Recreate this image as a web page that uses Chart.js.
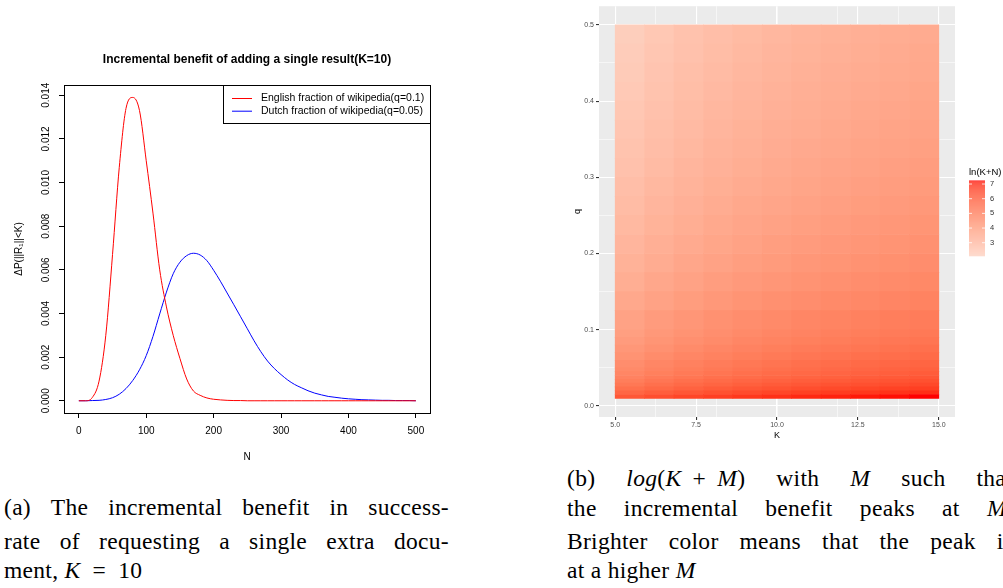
<!DOCTYPE html>
<html>
<head>
<meta charset="utf-8">
<script src="https://cdn.jsdelivr.net/npm/chart.js@4.4.1/dist/chart.umd.min.js"></script>
<style>
  html, body { margin: 0; padding: 0; background: #fff; }
  body { width: 1003px; height: 588px; position: relative; overflow: hidden; }
  canvas { position: absolute; }
  #benefitChart { left: 0; top: 0; }
  #peakChart { left: 550px; top: 0; }
  .cap { position: absolute; font-family: "Liberation Serif", "Times New Roman", serif; font-size: 23.5px; line-height: 26px; letter-spacing: 0.3px; color: #000; white-space: nowrap; }
  .just { display: flex; justify-content: space-between; }
</style>
</head>
<body>
<canvas id="benefitChart" width="450" height="470"></canvas>
<canvas id="peakChart" width="453" height="460"></canvas>

<div class="cap just" style="left:4px;top:494px;width:445px"><span>(a)</span><span>The</span><span>incremental</span><span>benefit</span><span>in</span><span>success-</span></div>
<div class="cap just" style="left:4px;top:528px;width:445px"><span>rate</span><span>of</span><span>requesting</span><span>a</span><span>single</span><span>extra</span><span>docu-</span></div>
<div class="cap" style="left:4px;top:557px">ment, <i>K</i>&ensp;=&ensp;10</div>

<div class="cap just" style="left:567px;top:465px;width:446px"><span>(b)</span><span><i>log</i>(<i>K</i>&thinsp; + &thinsp;<i>M</i>)</span><span>with</span><span><i>M</i></span><span>such</span><span>that</span></div>
<div class="cap just" style="left:567px;top:495px;width:446px"><span>the</span><span>incremental</span><span>benefit</span><span>peaks</span><span>at</span><span><i>M</i>.</span></div>
<div class="cap just" style="left:567px;top:528px;width:446px"><span>Brighter</span><span>color</span><span>means</span><span>that</span><span>the</span><span>peak</span><span>is</span></div>
<div class="cap" style="left:567px;top:557px">at a higher <i>M</i></div>

<script>
// ---- panel (a): incremental benefit of one extra result, K = 10 ----
const nValues = [0, 10, 20, 30, 40, 50, 60, 70, 80, 90, 100, 110, 120, 130, 140, 150, 160, 170, 180, 190, 200,
  210, 220, 230, 240, 250, 260, 270, 280, 290, 300, 310, 320, 330, 340, 350, 360, 370, 380, 390, 400,
  410, 420, 430, 440, 450, 460, 470, 480, 490, 500];
// English fraction of wikipedia (q=0.1)
const englishBenefit = [0, 0, 0.00015, 0.0009, 0.003, 0.0067, 0.0107, 0.0134, 0.0139, 0.0133, 0.011,
  0.0086, 0.006, 0.0043, 0.003, 0.00194, 0.001, 0.00045, 0.00025, 0.00013, 0.00007,
  0.00004, 0.00002, 0.00001, 0.00001, 0, 0, 0, 0, 0, 0, 0, 0, 0, 0, 0, 0, 0, 0, 0, 0,
  0, 0, 0, 0, 0, 0, 0, 0, 0, 0];
// Dutch fraction of wikipedia (q=0.05)
const dutchBenefit = [0, 0, 0.00001, 0.00002, 0.00006, 0.00014, 0.0003, 0.00056, 0.00093, 0.00142, 0.00207,
  0.00295, 0.00398, 0.00498, 0.00582, 0.00635, 0.00665, 0.00676, 0.00668, 0.00642, 0.00598,
  0.00548, 0.00494, 0.0044, 0.00385, 0.0033, 0.00275, 0.00225, 0.00182, 0.00148, 0.0012,
  0.00095, 0.00075, 0.0006, 0.00046, 0.00035, 0.00027, 0.0002, 0.00016, 0.00012, 0.00009,
  0.00007, 0.00005, 0.00004, 0.00003, 0.00002, 0.00002, 0.00001, 0.00001, 0.00001, 0];
const nTicks = [0, 100, 200, 300, 400, 500];
const benefitTicks = [0, 0.002, 0.004, 0.006, 0.008, 0.010, 0.012, 0.014];

// ---- panel (b): ln(K+N) at the peak, per K (columns) and q (rows, bottom up) ----
const kValues = [5, 6, 7, 8, 9, 10, 11, 12, 13, 14, 15];
const qEdges = [0.01, 0.015, 0.02, 0.025, 0.03, 0.035, 0.04, 0.045, 0.05, 0.06, 0.07, 0.08, 0.09, 0.10,
  0.125, 0.15, 0.175, 0.20, 0.225, 0.25, 0.275, 0.30, 0.325, 0.35, 0.375, 0.40, 0.425, 0.45, 0.475, 0.50];
const lnKN = [
  [5.99, 6.21, 6.40, 6.55, 6.68, 6.80, 6.91, 7.00, 7.09, 7.17, 7.24],
  [5.59, 5.81, 5.99, 6.15, 6.28, 6.40, 6.50, 6.60, 6.68, 6.76, 6.84],
  [5.30, 5.52, 5.70, 5.86, 5.99, 6.11, 6.21, 6.31, 6.40, 6.48, 6.55],
  [5.08, 5.30, 5.48, 5.63, 5.77, 5.89, 5.99, 6.09, 6.17, 6.25, 6.33],
  [4.89, 5.12, 5.30, 5.45, 5.59, 5.70, 5.81, 5.90, 5.99, 6.07, 6.15],
  [4.74, 4.96, 5.14, 5.30, 5.43, 5.55, 5.66, 5.75, 5.84, 5.92, 5.99],
  [4.61, 4.83, 5.01, 5.16, 5.30, 5.42, 5.52, 5.62, 5.70, 5.78, 5.86],
  [4.49, 4.71, 4.89, 5.05, 5.18, 5.30, 5.40, 5.50, 5.59, 5.67, 5.74],
  [4.38, 4.61, 4.79, 4.94, 5.08, 5.19, 5.30, 5.39, 5.48, 5.56, 5.63],
  [4.20, 4.42, 4.61, 4.76, 4.89, 5.01, 5.12, 5.21, 5.30, 5.38, 5.45],
  [4.05, 4.27, 4.45, 4.61, 4.74, 4.86, 4.96, 5.06, 5.14, 5.22, 5.30],
  [3.91, 4.14, 4.32, 4.47, 4.61, 4.72, 4.83, 4.92, 5.01, 5.09, 5.16],
  [3.79, 4.02, 4.20, 4.35, 4.49, 4.61, 4.71, 4.81, 4.89, 4.97, 5.05],
  [3.69, 3.91, 4.09, 4.25, 4.38, 4.50, 4.61, 4.70, 4.79, 4.87, 4.94],
  [3.47, 3.69, 3.87, 4.03, 4.16, 4.28, 4.38, 4.48, 4.56, 4.64, 4.72],
  [3.28, 3.51, 3.69, 3.84, 3.98, 4.09, 4.20, 4.30, 4.38, 4.46, 4.54],
  [3.13, 3.35, 3.53, 3.69, 3.82, 3.94, 4.05, 4.14, 4.23, 4.31, 4.38],
  [3.00, 3.22, 3.40, 3.56, 3.69, 3.81, 3.91, 4.01, 4.09, 4.17, 4.25],
  [2.88, 3.10, 3.28, 3.44, 3.57, 3.69, 3.79, 3.89, 3.98, 4.06, 4.13],
  [2.77, 3.00, 3.18, 3.33, 3.47, 3.58, 3.69, 3.78, 3.87, 3.95, 4.03],
  [2.68, 2.90, 3.08, 3.24, 3.37, 3.49, 3.59, 3.69, 3.78, 3.86, 3.93],
  [2.59, 2.81, 3.00, 3.15, 3.28, 3.40, 3.51, 3.60, 3.69, 3.77, 3.84],
  [2.51, 2.73, 2.92, 3.07, 3.20, 3.32, 3.43, 3.52, 3.61, 3.69, 3.76],
  [2.44, 2.66, 2.84, 3.00, 3.13, 3.25, 3.35, 3.45, 3.53, 3.61, 3.69],
  [2.37, 2.59, 2.77, 2.93, 3.06, 3.18, 3.28, 3.38, 3.47, 3.55, 3.62],
  [2.30, 2.53, 2.71, 2.86, 3.00, 3.11, 3.22, 3.31, 3.40, 3.48, 3.56],
  [2.24, 2.47, 2.65, 2.80, 2.94, 3.05, 3.16, 3.25, 3.34, 3.42, 3.49],
  [2.18, 2.41, 2.59, 2.74, 2.88, 3.00, 3.10, 3.20, 3.28, 3.36, 3.44],
  [2.13, 2.35, 2.54, 2.69, 2.82, 2.94, 3.05, 3.14, 3.23, 3.31, 3.38]
];
const kTicks = [5, 7.5, 10, 12.5, 15];
const kMinorTicks = [6.25, 8.75, 11.25, 13.75];
const qTicks = [0, 0.1, 0.2, 0.3, 0.4, 0.5];
const qMinorTicks = [0.05, 0.15, 0.25, 0.35, 0.45];
const legendTicks = [3, 4, 5, 6, 7];
const fillRange = [2.08, 7.24];

Chart.defaults.font.family = '"Liberation Sans", Arial, sans-serif';
Chart.defaults.animation = false;

// gradient low -> high, interpolated in Lab like ggplot does
const lowFill = [253, 207, 190];
const highFill = [255, 0, 0];

function toLab(rgb) {
  const lin = rgb.map(c => { c /= 255; return c <= 0.04045 ? c / 12.92 : Math.pow((c + 0.055) / 1.055, 2.4); });
  const X = (0.4124 * lin[0] + 0.3576 * lin[1] + 0.1805 * lin[2]) / 0.95047;
  const Y = (0.2126 * lin[0] + 0.7152 * lin[1] + 0.0722 * lin[2]);
  const Z = (0.0193 * lin[0] + 0.1192 * lin[1] + 0.9505 * lin[2]) / 1.08883;
  const f = t => t > 0.008856 ? Math.cbrt(t) : 7.787 * t + 16 / 116;
  const fx = f(X), fy = f(Y), fz = f(Z);
  return [116 * fy - 16, 500 * (fx - fy), 200 * (fy - fz)];
}
function fromLab(lab) {
  const fy = (lab[0] + 16) / 116, fx = lab[1] / 500 + fy, fz = fy - lab[2] / 200;
  const inv = t => t * t * t > 0.008856 ? t * t * t : (t - 16 / 116) / 7.787;
  const X = inv(fx) * 0.95047, Y = inv(fy), Z = inv(fz) * 1.08883;
  const lin = [3.2406 * X - 1.5372 * Y - 0.4986 * Z, -0.9689 * X + 1.8758 * Y + 0.0415 * Z, 0.0557 * X - 0.2040 * Y + 1.0570 * Z];
  return lin.map(c => {
    const v = c <= 0.0031308 ? 12.92 * c : 1.055 * Math.pow(c, 1 / 2.4) - 0.055;
    return Math.round(Math.max(0, Math.min(1, v)) * 255);
  });
}
const lowLab = toLab(lowFill), highLab = toLab(highFill);
function fillColor(v) {
  const t = Math.max(0, Math.min(1, (v - fillRange[0]) / (fillRange[1] - fillRange[0])));
  const c = fromLab(lowLab.map((l, i) => l + (highLab[i] - l) * t));
  return 'rgb(' + c.join(',') + ')';
}

// ---------- chart (a) ----------
const rBase = {
  id: 'rBase',
  afterDraw(chart) {
    const { ctx, chartArea: a } = chart;
    ctx.save();
    ctx.strokeStyle = '#000';
    ctx.lineWidth = 1;
    ctx.strokeRect(a.left + 0.5, a.top + 0.5, a.right - a.left, a.bottom - a.top);

    ctx.fillStyle = '#000';
    ctx.font = 'bold 12px "Liberation Sans", Arial, sans-serif';
    ctx.textAlign = 'center';
    ctx.textBaseline = 'middle';
    ctx.fillText('Incremental benefit of adding a single result(K=10)', (a.left + a.right) / 2, 60);

    // y tick labels, rotated like base R
    const ys = chart.scales.y;
    ctx.font = '10px "Liberation Sans", Arial, sans-serif';
    benefitTicks.forEach(v => {
      ctx.save();
      ctx.translate(46.5, ys.getPixelForValue(v));
      ctx.rotate(-Math.PI / 2);
      ctx.fillText(v.toFixed(3), 0, 0);
      ctx.restore();
    });

    // legend box top-right
    const lx = 223, ly = a.top, lw = a.right - 223, lh = 38;
    ctx.fillStyle = '#fff';
    ctx.fillRect(lx, ly, lw, lh);
    ctx.strokeRect(lx + 0.5, ly + 0.5, lw, lh);
    ctx.font = '10.5px "Liberation Sans", Arial, sans-serif';
    ctx.textAlign = 'left';
    chart.data.datasets.forEach((ds, i) => {
      const yy = ly + 13.5 + i * 12.7;
      ctx.strokeStyle = ds.borderColor;
      ctx.beginPath();
      ctx.moveTo(232, yy);
      ctx.lineTo(252, yy);
      ctx.stroke();
      ctx.fillStyle = '#000';
      ctx.fillText(ds.label, 261, yy);
    });
    ctx.restore();
  }
};

new Chart(document.getElementById('benefitChart'), {
  type: 'line',
  data: {
    datasets: [
      {
        label: 'English fraction of wikipedia(q=0.1)',
        data: nValues.map((n, i) => ({ x: n, y: englishBenefit[i] })),
        borderColor: '#ff0000',
        borderWidth: 1,
        pointRadius: 0,
        cubicInterpolationMode: 'monotone'
      },
      {
        label: 'Dutch fraction of wikipedia(q=0.05)',
        data: nValues.map((n, i) => ({ x: n, y: dutchBenefit[i] })),
        borderColor: '#0000ff',
        borderWidth: 1,
        pointRadius: 0,
        cubicInterpolationMode: 'monotone'
      }
    ]
  },
  options: {
    responsive: false,
    devicePixelRatio: 1,
    layout: { padding: { top: 85, right: 20, left: 0, bottom: 0 } },
    plugins: { legend: { display: false }, tooltip: { enabled: false } },
    scales: {
      x: {
        type: 'linear',
        min: -22,
        max: 521,
        afterBuildTicks: s => { s.ticks = nTicks.map(v => ({ value: v })); },
        afterFit: s => { s.height = 57; },
        grid: { drawOnChartArea: false, drawTicks: true, tickLength: 5, tickColor: '#000' },
        border: { display: true, color: '#000' },
        ticks: { color: '#000', font: { size: 10 }, padding: 7, maxRotation: 0, autoSkip: false, callback: v => String(v) },
        title: { display: true, text: 'N', color: '#000', font: { size: 10 }, padding: { top: 0, bottom: 7 } }
      },
      y: {
        min: -0.00056,
        max: 0.01447,
        afterBuildTicks: s => { s.ticks = benefitTicks.map(v => ({ value: v })); },
        afterFit: s => { s.width = 64; },
        grid: { drawOnChartArea: false, drawTicks: true, tickLength: 5, tickColor: '#000' },
        border: { display: true, color: '#000' },
        ticks: { color: 'rgba(0,0,0,0)', font: { size: 10 }, autoSkip: false },
        title: { display: true, text: 'ΔP(||R₁||<K)', color: '#000', font: { size: 10 }, padding: { top: 13, bottom: 0 } }
      }
    }
  },
  plugins: [rBase]
});

// ---------- chart (b) ----------
const kSpan = kValues[kValues.length - 1] - kValues[0];
const tileW = kSpan / kValues.length;
const heatRows = qEdges.slice(0, -1).map((q0, r) => ({
  label: 'q ' + q0,
  data: kValues.map((k, i) => ({ x: kValues[0] + (i + 0.5) * tileW, y: [q0, qEdges[r + 1]] })),
  backgroundColor: lnKN[r].map(fillColor),
  borderWidth: 0,
  grouped: false,
  barPercentage: 1,
  categoryPercentage: 1
}));

const ggPanel = {
  id: 'ggPanel',
  beforeDraw(chart) {
    const { ctx, chartArea: a } = chart;
    ctx.save();
    ctx.fillStyle = '#ebebeb';
    ctx.fillRect(a.left, a.top, a.right - a.left, a.bottom - a.top);
    ctx.restore();
  },
  afterDraw(chart) {
    const { ctx } = chart;
    const barX = 419, barW = 16, barTop = 180.5, pxPerUnit = 14.675;
    const yOf = v => barTop + (fillRange[1] - v) * pxPerUnit;
    ctx.save();
    ctx.fillStyle = '#000';
    ctx.font = '9.5px "Liberation Sans", Arial, sans-serif';
    ctx.textAlign = 'left';
    ctx.textBaseline = 'middle';
    ctx.fillText('ln(K+N)', barX, 172);
    const yBottom = yOf(fillRange[0]);
    for (let y = barTop; y < yBottom; y += 1) {
      const v = fillRange[1] - (y + 0.5 - barTop) / pxPerUnit;
      ctx.fillStyle = fillColor(v);
      ctx.fillRect(barX, y, barW, Math.min(1, yBottom - y));
    }
    ctx.strokeStyle = '#fff';
    ctx.lineWidth = 0.8;
    ctx.fillStyle = '#333';
    ctx.font = '7.5px "Liberation Sans", Arial, sans-serif';
    legendTicks.forEach(v => {
      const y = yOf(v);
      ctx.beginPath();
      ctx.moveTo(barX, y); ctx.lineTo(barX + 3, y);
      ctx.moveTo(barX + barW - 3, y); ctx.lineTo(barX + barW, y);
      ctx.stroke();
      ctx.fillText(String(v), barX + barW + 5, y);
    });
    ctx.restore();
  }
};

const tickFont = { size: 7 };
new Chart(document.getElementById('peakChart'), {
  type: 'bar',
  data: { datasets: heatRows },
  options: {
    responsive: false,
    devicePixelRatio: 1,
    layout: { padding: { top: 6, right: 48, left: 0, bottom: 0 } },
    plugins: { legend: { display: false }, tooltip: { enabled: false } },
    scales: {
      x: {
        type: 'linear',
        offset: false,
        min: 4.5,
        max: 15.5,
        afterBuildTicks: s => { s.ticks = kTicks.map(v => ({ value: v })); },
        afterFit: s => { s.height = 43; },
        grid: { offset: false, color: '#fff', lineWidth: 1.1, drawTicks: true, tickLength: 3, tickColor: '#333' },
        border: { display: false },
        ticks: { color: '#4d4d4d', font: tickFont, padding: 1, maxRotation: 0, autoSkip: false, callback: v => v.toFixed(1) },
        title: { display: true, text: 'K', color: '#000', font: { size: 9 }, padding: { top: 0, bottom: 18.6 } }
      },
      xMinor: {
        type: 'linear',
        position: 'bottom',
        min: 4.5,
        max: 15.5,
        afterBuildTicks: s => { s.ticks = kMinorTicks.map(v => ({ value: v })); },
        afterFit: s => { s.height = 0; },
        grid: { color: '#fff', lineWidth: 0.55, drawTicks: false },
        border: { display: false },
        ticks: { display: false }
      },
      y: {
        type: 'linear',
        min: -0.0145,
        max: 0.5245,
        afterBuildTicks: s => { s.ticks = qTicks.map(v => ({ value: v })); },
        afterFit: s => { s.width = 49; },
        grid: { color: '#fff', lineWidth: 1.1, drawTicks: true, tickLength: 3, tickColor: '#333' },
        border: { display: false },
        ticks: { color: '#4d4d4d', font: tickFont, padding: 2, autoSkip: false, callback: v => v.toFixed(1) },
        title: { display: true, text: 'q', color: '#000', font: { size: 9 }, padding: { top: 22.6, bottom: 0 } }
      },
      yMinor: {
        type: 'linear',
        position: 'left',
        min: -0.0145,
        max: 0.5245,
        afterBuildTicks: s => { s.ticks = qMinorTicks.map(v => ({ value: v })); },
        afterFit: s => { s.width = 0; },
        grid: { color: '#fff', lineWidth: 0.55, drawTicks: false },
        border: { display: false },
        ticks: { display: false }
      }
    }
  },
  plugins: [ggPanel]
});
</script>
</body>
</html>
